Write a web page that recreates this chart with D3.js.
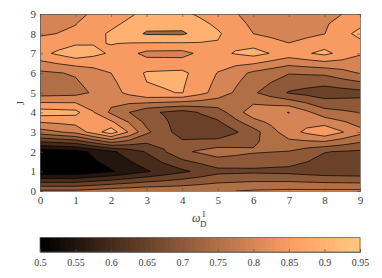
<!DOCTYPE html>
<html>
<head>
<meta charset="utf-8">
<style>
  html, body { margin: 0; padding: 0; background: #fff; }
  text { font-family: "Liberation Serif", serif; fill: #404040; }
  .axis path, .axis line { stroke: #555; stroke-width: 0.7; }
  .axis text { font-family: "Liberation Serif", serif; fill: #404040; }
</style>
<script src="https://cdn.jsdelivr.net/npm/d3@7"></script>
</head>
<body>
<div id="chart"></div>
<script>
var omegaTicks = [0, 1, 2, 3, 4, 5, 6, 7, 8, 9];
var jTicks = [0, 1, 2, 3, 4, 5, 6, 7, 8, 9];
var levels = [0.5, 0.55, 0.6, 0.65, 0.7, 0.75, 0.8, 0.85, 0.9, 0.95];
var colorbarTicks = [0.5, 0.55, 0.6, 0.65, 0.7, 0.75, 0.8, 0.85, 0.9, 0.95];

// one array per J value, left to right along omega
var j0 = [0.76, 0.76, 0.78, 0.79, 0.79, 0.795, 0.805, 0.81, 0.81, 0.81];
var j1 = [0.51, 0.51, 0.545, 0.595, 0.64, 0.685, 0.69, 0.685, 0.67, 0.665];
var j2 = [0.52, 0.53, 0.59, 0.655, 0.74, 0.775, 0.755, 0.748, 0.702, 0.692];
var j3 = [0.778, 0.815, 0.93, 0.76, 0.675, 0.66, 0.73, 0.83, 0.89, 0.816];
var j4 = [0.925, 0.915, 0.79, 0.712, 0.68, 0.725, 0.83, 0.851, 0.77, 0.748];
var j5 = [0.775, 0.782, 0.83, 0.894, 0.9015, 0.83, 0.757, 0.696, 0.67, 0.683];
var j6 = [0.79, 0.805, 0.85, 0.905, 0.911, 0.848, 0.79, 0.753, 0.76, 0.803];
var j7 = [0.885, 0.932, 0.894, 0.836, 0.833, 0.888, 0.9185, 0.877, 0.913, 0.855];
var j8 = [0.845, 0.856, 0.908, 0.955, 0.957, 0.906, 0.85, 0.826, 0.849, 0.916];
var j9 = [0.83, 0.842, 0.866, 0.916, 0.91, 0.875, 0.831, 0.82, 0.84, 0.86];

var rows = [j0, j1, j2, j3, j4, j5, j6, j7, j8, j9];

var width = 382, height = 278;
var margin = { left: 40, right: 360, top: 14, bottom: 191 };

var svg = d3.select('#chart').append('svg')
    .attr('width', width)
    .attr('height', height)
    .style('display', 'block');

var x = d3.scaleLinear().domain([0, 9]).range([margin.left, margin.right]);
var y = d3.scaleLinear().domain([0, 9]).range([margin.bottom, margin.top]);
var cbar = d3.scaleLinear().domain([0.5, 0.95]).range([margin.left, margin.right]);

// matlab copper
function copper(v) {
    var t = Math.max(0, Math.min(1, (v - 0.5) / 0.45));
    return d3.rgb(Math.min(255, 255 * 1.25 * t), 255 * 0.7812 * t, 255 * 0.4975 * t);
}

// the band above the last level comes out darker in the original
function levelColor(v) {
    return v >= 0.95 ? '#9a6a45' : copper(v);
}

// d3.contours splits every saddle the same way, matlab goes by the cell mean.
// so contour on a grid with the edge and cell midpoints added (stays piecewise linear)
function withMidpoints(grid) {
    var out = [];
    var n = grid.length, m = grid[0].length;
    for (var r = 0; r < 2 * n - 1; r++) {
        for (var c = 0; c < 2 * m - 1; c++) {
            var r0 = Math.floor(r / 2), r1 = Math.ceil(r / 2);
            var c0 = Math.floor(c / 2), c1 = Math.ceil(c / 2);
            out.push((grid[r0][c0] + grid[r0][c1] + grid[r1][c0] + grid[r1][c1]) / 4);
        }
    }
    return out;
}

svg.append('clipPath').attr('id', 'plot-clip').append('rect')
    .attr('x', margin.left)
    .attr('y', margin.top)
    .attr('width', margin.right - margin.left)
    .attr('height', margin.bottom - margin.top);

// d3.contours puts grid value i at i + 0.5, and the grid is doubled
var toPlot = d3.geoTransform({
    point: function(px, py) {
        this.stream.point(x((px - 0.5) / 2), y((py - 0.5) / 2));
    }
});
var path = d3.geoPath(toPlot);

var contours = d3.contours().size([19, 19]).thresholds(levels)(withMidpoints(rows));

svg.append('g')
    .attr('clip-path', 'url(#plot-clip)')
    .selectAll('path')
    .data(contours)
    .enter().append('path')
    .attr('d', path)
    .attr('fill', function(d) { return levelColor(d.value); })
    .attr('stroke', '#000')
    .attr('stroke-width', 0.7)
    .attr('stroke-linejoin', 'miter');

// axes
svg.append('g').attr('class', 'axis')
    .attr('transform', 'translate(0,' + margin.bottom + ')')
    .call(d3.axisBottom(x).tickValues(omegaTicks).tickSize(-3).tickPadding(5).tickFormat(d3.format('d')))
    .selectAll('text').style('font-size', '11px');

svg.append('g').attr('class', 'axis')
    .attr('transform', 'translate(' + margin.left + ',0)')
    .call(d3.axisLeft(y).tickValues(jTicks).tickSize(-3).tickPadding(4).tickFormat(d3.format('d')))
    .selectAll('text').style('font-size', '11px');

svg.append('g').attr('class', 'axis')
    .attr('transform', 'translate(0,' + margin.top + ')')
    .call(d3.axisTop(x).tickValues(omegaTicks).tickSize(-3).tickFormat(''));

svg.append('g').attr('class', 'axis')
    .attr('transform', 'translate(' + margin.right + ',0)')
    .call(d3.axisRight(y).tickValues(jTicks).tickSize(-3).tickFormat(''));

// axis labels
svg.append('text')
    .attr('transform', 'translate(24,103) rotate(-90)')
    .attr('text-anchor', 'middle')
    .style('font-size', '11px')
    .text('J');

svg.append('text').attr('x', 192).attr('y', 222).style('font-size', '12px').style('font-style', 'italic').text('ω');
svg.append('text').attr('x', 201.5).attr('y', 217).style('font-size', '9px').text('1');
svg.append('text').attr('x', 200).attr('y', 227).style('font-size', '9px').text('D');

// colorbar
var cbarTop = 237.5, cbarHeight = 14.5;
var cbarSteps = d3.range(64);
var stepW = (margin.right - margin.left) / 64;

svg.append('g').selectAll('rect')
    .data(cbarSteps)
    .enter().append('rect')
    .attr('x', function(d) { return margin.left + d * stepW; })
    .attr('y', cbarTop)
    .attr('width', stepW + 0.5)
    .attr('height', cbarHeight)
    .attr('fill', function(d) { return copper(0.5 + 0.45 * (d / 63)); });

svg.append('g').attr('class', 'axis')
    .attr('transform', 'translate(0,' + (cbarTop + cbarHeight) + ')')
    .call(d3.axisBottom(cbar).tickValues(colorbarTicks).tickSize(-3).tickPadding(7).tickFormat(function(d) { return String(d); }))
    .selectAll('text').style('font-size', '10px');

svg.append('rect')
    .attr('x', margin.left)
    .attr('y', cbarTop)
    .attr('width', margin.right - margin.left)
    .attr('height', cbarHeight)
    .attr('fill', 'none')
    .attr('stroke', '#555')
    .attr('stroke-width', 0.7);
</script>
</body>
</html>
